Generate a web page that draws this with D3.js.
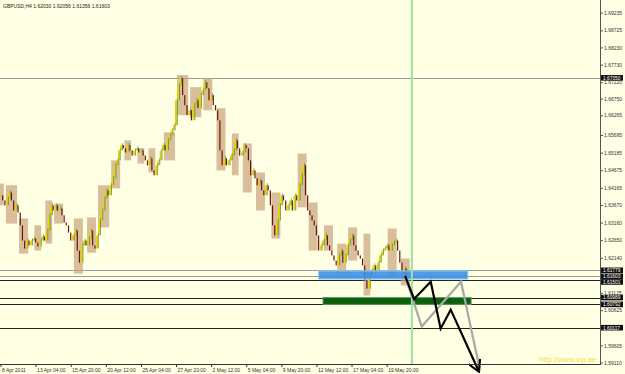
<!DOCTYPE html>
<html>
<head>
<meta charset="utf-8">
<script src="https://cdn.jsdelivr.net/npm/d3@7"></script>
<style>
  body { margin: 0; background: #ffffe4; }
  svg { display: block; font-family: "Liberation Sans", Arial, sans-serif; }
</style>
</head>
<body>
<div id="chart"></div>
<script>
// GBPUSD H4 closes, one per bar, 8 Apr 2011 .. 20 May 2011
var closes = [
  1.6395, 1.6380,
  1.6366, 1.6386, 1.6403, 1.6380, 1.6351, 1.6366,
  1.6345, 1.6308, 1.6264, 1.6241, 1.6264,
  1.6250, 1.6264, 1.6270, 1.6258, 1.6247, 1.6264, 1.6276, 1.6264,
  1.6293, 1.6337, 1.6366, 1.6351,
  1.6366, 1.6351, 1.6357, 1.6337, 1.6316,
  1.6308, 1.6287, 1.6264, 1.6279,
  1.6293, 1.6235, 1.6200, 1.6250, 1.6264,
  1.6250, 1.6270, 1.6293, 1.6250, 1.6241, 1.6279,
  1.6322, 1.6351, 1.6386, 1.6409, 1.6395, 1.6424,
  1.6444, 1.6482, 1.6496, 1.6525, 1.6540,
  1.6531, 1.6519, 1.6540, 1.6525, 1.6510, 1.6525, 1.6531, 1.6519, 1.6525, 1.6510,
  1.6496, 1.6482, 1.6502, 1.6467, 1.6453, 1.6482, 1.6496,
  1.6525, 1.6540, 1.6525, 1.6554, 1.6569, 1.6583, 1.6598,
  1.6670, 1.6713, 1.6734, 1.6685, 1.6656,
  1.6627, 1.6641, 1.6612, 1.6656, 1.6670, 1.6647,
  1.6685, 1.6699, 1.6722, 1.6705, 1.6670, 1.6685,
  1.6656, 1.6641, 1.6612, 1.6525,
  1.6482, 1.6502, 1.6482, 1.6496, 1.6510, 1.6525,
  1.6554, 1.6531, 1.6510, 1.6519, 1.6540, 1.6531,
  1.6496, 1.6453, 1.6467, 1.6444, 1.6424, 1.6438,
  1.6409, 1.6395, 1.6424, 1.6409, 1.6366, 1.6308,
  1.6279, 1.6322, 1.6366, 1.6395, 1.6380, 1.6351,
  1.6366, 1.6380, 1.6351, 1.6395, 1.6380, 1.6424, 1.6453,
  1.6482, 1.6395, 1.6351, 1.6337, 1.6322,
  1.6308, 1.6279, 1.6235, 1.6250, 1.6264, 1.6279,
  1.6250, 1.6235, 1.6221, 1.6206, 1.6192, 1.6221, 1.6235,
  1.6200, 1.6221, 1.6250, 1.6264, 1.6279, 1.6250,
  1.6235, 1.6221, 1.6212, 1.6192, 1.6148, 1.6125,
  1.6163, 1.6177, 1.6192, 1.6177, 1.6200, 1.6221,
  1.6235, 1.6241, 1.6250, 1.6235, 1.6250, 1.6258,
  1.6264, 1.6235, 1.6200, 1.6177, 1.6183, 1.6154, 1.6160
];

// higher timeframe boxes: first bar, last bar, high, low
var boxes = [
  [0, 1, 1.6429, 1.6366], [3, 7, 1.6424, 1.6313], [9, 12, 1.6328, 1.6226],
  [16, 18, 1.6308, 1.6235], [21, 23, 1.6380, 1.6255], [25, 28, 1.6371, 1.6313],
  [34, 37, 1.6328, 1.6168], [40, 43, 1.6331, 1.6229], [45, 49, 1.6424, 1.6302],
  [51, 54, 1.6496, 1.6415], [57, 59, 1.6554, 1.6496], [63, 65, 1.6531, 1.6487],
  [68, 70, 1.6531, 1.6461], [75, 79, 1.6577, 1.6496], [81, 85, 1.6743, 1.6627],
  [87, 91, 1.6708, 1.6621], [93, 96, 1.6734, 1.6641], [99, 102, 1.6647, 1.6467],
  [106, 108, 1.6574, 1.6453], [111, 114, 1.6545, 1.6403], [117, 120, 1.6461, 1.6351],
  [124, 127, 1.6403, 1.6270], [136, 139, 1.6516, 1.6360], [141, 144, 1.6374, 1.6235],
  [148, 151, 1.6308, 1.6235], [154, 157, 1.6255, 1.6168], [159, 162, 1.6302, 1.6206],
  [166, 168, 1.6284, 1.6105], [177, 180, 1.6299, 1.6163], [183, 186, 1.6212, 1.6134]
];

// price axis
var priceTicks = [1.69235, 1.68725, 1.68230, 1.67730, 1.67220, 1.66750, 1.66265,
  1.65695, 1.65185, 1.64675, 1.64165, 1.63670, 1.63160, 1.62650, 1.62140,
  1.61125, 1.60625, 1.59605, 1.59110];

// time axis: bar index and label
var timeTicks = [0, 16, 32, 48, 64, 80, 96, 112, 128, 144, 160, 176];
var timeLabels = ["8 Apr 2011", "13 Apr 04:00", "15 Apr 20:00", "20 Apr 12:00",
  "25 Apr 04:00", "27 Apr 20:00", "2 May 12:00", "5 May 04:00", "9 May 20:00",
  "12 May 12:00", "17 May 04:00", "19 May 20:00"];

// horizontal levels
var grayLevels = [1.67350, 1.61779, 1.61603];
var blackLevels = [1.61501, 1.60989, 1.60792, 1.60117];
var levelLabels = [1.67350, 1.61779, 1.61603, 1.61501, 1.60989, 1.60792, 1.60117];

// zones: first bar, last bar, high, low
var blueZone = [145, 213, 1.61760, 1.61525];
var greenZone = [147, 214.5, 1.60989, 1.60792];

// projected paths: bar index, price
var blackPath = [[184.4, 1.6162], [188.5, 1.6095], [196.1, 1.6145], [200.6, 1.6009],
  [205.2, 1.6064], [218.1, 1.5884]];
var grayPath = [[184.4, 1.6162], [192.0, 1.6015], [209.9, 1.6145], [218.4, 1.5893]];

var nowBar = 187.5;
var header = "GBPUSD,H4  1.62030 1.62056 1.61356 1.61603";

var width = 625, height = 374;
var plotW = 600, plotH = 364;

var svg = d3.select("#chart").append("svg")
    .attr("width", width)
    .attr("height", height);

svg.append("rect")
    .attr("width", width).attr("height", height)
    .attr("fill", "#ffffe4");

var x = d3.scaleLinear().domain([0, 273]).range([0.5, 0.5 + 273 * 2.194]);
var y = d3.scaleLinear().domain([1.59110, 1.69235]).range([362.5, 12.7]);

// level lines
svg.selectAll(".glevel").data(grayLevels).enter().append("line")
    .attr("x1", 0).attr("x2", plotW)
    .attr("y1", function(d) { return Math.round(y(d)) + 0.5; })
    .attr("y2", function(d) { return Math.round(y(d)) + 0.5; })
    .attr("stroke", "#9a9a9a").attr("stroke-width", 1);

svg.selectAll(".blevel").data(blackLevels).enter().append("line")
    .attr("x1", 0).attr("x2", plotW)
    .attr("y1", function(d) { return Math.round(y(d)) + 0.5; })
    .attr("y2", function(d) { return Math.round(y(d)) + 0.5; })
    .attr("stroke", "#222").attr("stroke-width", 1);

// tan boxes
svg.selectAll(".box").data(boxes).enter().append("rect")
    .attr("x", function(d) { return x(d[0]) - 1.2; })
    .attr("width", function(d) { return x(d[1]) - x(d[0]) + 2.4; })
    .attr("y", function(d) { return y(d[2]); })
    .attr("height", function(d) { return y(d[3]) - y(d[2]); })
    .attr("fill", "#c9a27c")
    .attr("opacity", 0.7);

// thin bars, open at previous close
var bars = closes.map(function(c, i) {
    return { i: i, o: i > 0 ? closes[i - 1] : c, c: c };
});

svg.selectAll(".bar").data(bars).enter().append("rect")
    .attr("x", function(d) { return x(d.i) - (d.c >= d.o ? 1 : 0.6); })
    .attr("width", function(d) { return d.c >= d.o ? 2 : 1.2; })
    .attr("y", function(d) { return y(Math.max(d.o, d.c)); })
    .attr("height", function(d) { return Math.max(1, Math.abs(y(d.o) - y(d.c))); })
    .attr("fill", function(d) { return d.c >= d.o ? "#f2cf00" : "#6e1212"; });

// green wicks on up bars
svg.selectAll(".wick").data(bars.filter(function(d) { return d.c > d.o; })).enter().append("line")
    .attr("x1", function(d) { return x(d.i) + 1.3; })
    .attr("x2", function(d) { return x(d.i) + 1.3; })
    .attr("y1", function(d) { return y(d.c) - 2; })
    .attr("y2", function(d) { return y(d.o); })
    .attr("stroke", "#2f8f3a").attr("stroke-width", 0.7);

// zones
svg.append("rect")
    .attr("x", x(blueZone[0])).attr("width", x(blueZone[1]) - x(blueZone[0]))
    .attr("y", y(blueZone[2])).attr("height", y(blueZone[3]) - y(blueZone[2]))
    .attr("fill", "#3d8fe8").attr("fill-opacity", 0.9)
    .attr("stroke", "#8fd0f5").attr("stroke-width", 1);

svg.append("rect")
    .attr("x", x(greenZone[0])).attr("width", x(greenZone[1]) - x(greenZone[0]))
    .attr("y", y(greenZone[2])).attr("height", y(greenZone[3]) - y(greenZone[2]))
    .attr("fill", "#0b5e0b")
    .attr("stroke", "#5f9a5f").attr("stroke-width", 1);

// current time line
svg.append("line")
    .attr("x1", x(nowBar)).attr("x2", x(nowBar))
    .attr("y1", 0).attr("y2", plotH)
    .attr("stroke", "#9be39b").attr("stroke-width", 2);

// projections
svg.append("defs").append("marker")
    .attr("id", "arrow")
    .attr("viewBox", "0 0 10 10")
    .attr("refX", 9).attr("refY", 5)
    .attr("markerWidth", 6).attr("markerHeight", 6)
    .attr("orient", "auto")
  .append("path")
    .attr("d", "M0,0 L9,5 L0,10")
    .attr("fill", "none").attr("stroke", "#000").attr("stroke-width", 1.6);

var pathLine = d3.line()
    .x(function(d) { return x(d[0]); })
    .y(function(d) { return y(d[1]); });

svg.append("path")
    .attr("d", pathLine(grayPath))
    .attr("fill", "none").attr("stroke", "#a8a8a8").attr("stroke-width", 2.2);

svg.append("path")
    .attr("d", pathLine(blackPath))
    .attr("fill", "none").attr("stroke", "#000").attr("stroke-width", 2.2)
    .attr("marker-end", "url(#arrow)");

// axes
var yAxis = d3.axisRight(y)
    .tickValues(priceTicks)
    .tickSize(3)
    .tickFormat(d3.format(".5f"));

var gy = svg.append("g")
    .attr("transform", "translate(" + plotW + ",0)")
    .call(yAxis);
gy.select(".domain").attr("stroke", "#555").attr("d", "M0.5,0V" + plotH);
gy.selectAll(".tick line").attr("stroke", "#555");
gy.selectAll(".tick text").attr("x", 4).attr("font-size", 5).attr("fill", "#333");

var xAxis = d3.axisBottom(x)
    .tickValues(timeTicks)
    .tickSize(3)
    .tickFormat(function(d, i) { return timeLabels[i]; });

var gx = svg.append("g")
    .attr("transform", "translate(0," + plotH + ")")
    .call(xAxis);
gx.select(".domain").attr("stroke", "#333").attr("d", "M0," + 0.5 + "H" + (plotW + 1));
gx.selectAll(".tick line").attr("stroke", "#333");
gx.selectAll(".tick text")
    .attr("text-anchor", "start").attr("x", 1).attr("y", 4)
    .attr("font-size", 5).attr("fill", "#333");

// price labels for levels, stacked so they do not cover each other
var labY = [];
levelLabels.forEach(function(d, i) {
    var p = y(d);
    if (i > 0 && p - labY[i - 1] < 5.6) p = labY[i - 1] + 5.6;
    labY.push(p);
});

var lab = svg.selectAll(".lab").data(levelLabels).enter().append("g")
    .attr("transform", function(d, i) { return "translate(" + (plotW + 1) + "," + labY[i] + ")"; });
lab.append("rect")
    .attr("x", 0).attr("y", -2.8).attr("width", 22).attr("height", 5.6)
    .attr("fill", "#111");
lab.append("text")
    .attr("x", 2).attr("y", 1.8)
    .attr("font-size", 4.8).attr("fill", "#fff")
    .text(function(d) { return d.toFixed(5); });

// header and watermark
svg.append("text")
    .attr("x", 3).attr("y", 8)
    .attr("font-size", 5).attr("fill", "#222")
    .text(header);

svg.append("text")
    .attr("x", 596).attr("y", 362)
    .attr("text-anchor", "end")
    .attr("font-size", 7.5).attr("fill", "#f3dc4a")
    .text("http://www.vip.ae");
</script>
</body>
</html>
